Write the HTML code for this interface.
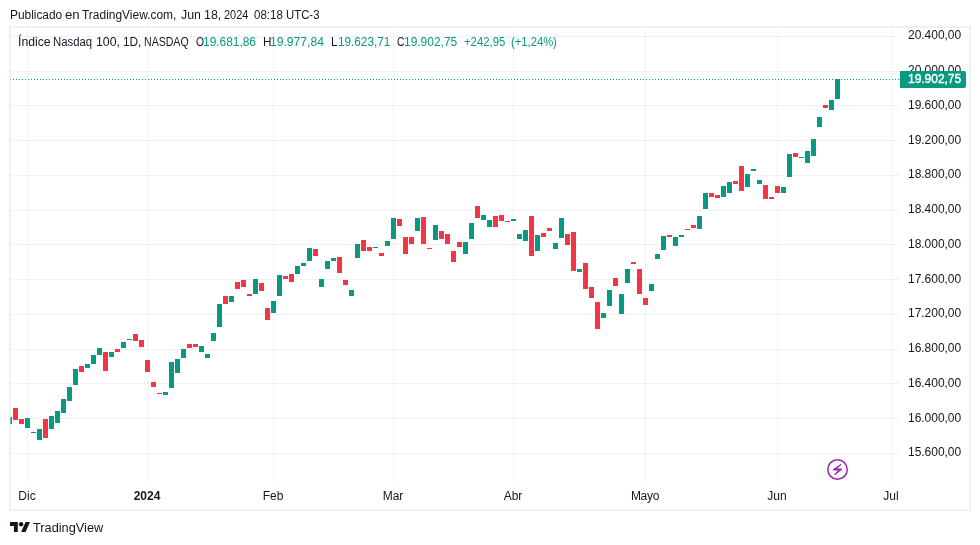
<!DOCTYPE html>
<html lang="es"><head><meta charset="utf-8"><title>Índice Nasdaq 100</title>
<style>
html,body{margin:0;padding:0;background:#fff;}
body{width:980px;height:545px;position:relative;overflow:hidden;font-family:"Liberation Sans",sans-serif;color:#131722;}
.a{position:absolute;}
.t{position:absolute;white-space:nowrap;font-size:12px;line-height:14px;transform-origin:0 0;}
.g{background:#089981;}
.r{background:#f23645;}
.h{position:absolute;left:11px;width:889px;height:1px;background:rgba(42,46,57,0.06);}
.v{position:absolute;top:28px;width:1px;height:454px;background:rgba(42,46,57,0.06);}
.c{position:absolute;width:5px;}
.up{color:#089981;}
</style></head><body>
<div class="t" id="hdr0" style="left:9.56px;top:8px;transform:scaleX(0.9905);">Publicado</div>
<div class="t" id="hdr1" style="left:65.18px;top:8px;transform:scaleX(1.0972);">en</div>
<div class="t" id="hdr2" style="left:81.81px;top:8px;transform:scaleX(0.9963);">TradingView.com,</div>
<div class="t" id="hdr3" style="left:181.05px;top:8px;transform:scaleX(1.0276);">Jun</div>
<div class="t" id="hdr4" style="left:203.53px;top:8px;transform:scaleX(1.0303);">18,</div>
<div class="t" id="hdr5" style="left:224.32px;top:8px;transform:scaleX(0.9111);">2024</div>
<div class="t" id="hdr6" style="left:253.69px;top:8px;transform:scaleX(0.9600);">08:18</div>
<div class="t" id="hdr7" style="left:285.51px;top:8px;transform:scaleX(0.9469);">UTC-3</div>
<div class="h" style="top:36px"></div>
<div class="h" style="top:71px"></div>
<div class="h" style="top:105px"></div>
<div class="h" style="top:140px"></div>
<div class="h" style="top:175px"></div>
<div class="h" style="top:210px"></div>
<div class="h" style="top:244px"></div>
<div class="h" style="top:279px"></div>
<div class="h" style="top:314px"></div>
<div class="h" style="top:349px"></div>
<div class="h" style="top:383px"></div>
<div class="h" style="top:418px"></div>
<div class="h" style="top:453px"></div>
<div class="v" style="left:27px"></div>
<div class="v" style="left:147px"></div>
<div class="v" style="left:273px"></div>
<div class="v" style="left:393px"></div>
<div class="v" style="left:513px"></div>
<div class="v" style="left:645px"></div>
<div class="v" style="left:777px"></div>
<div class="v" style="left:891px"></div>
<div class="a" id="pline" style="left:10px;top:79px;width:890px;height:1px;background:repeating-linear-gradient(90deg,#089981 0 1px,transparent 1px 3px);"></div>
<div class="c g" style="left:10px;top:417px;height:7px;width:2px;"></div>
<div class="c r" style="left:13px;top:408px;height:12px;"></div>
<div class="c r" style="left:19px;top:419px;height:5px;"></div>
<div class="c g" style="left:25px;top:418px;height:10px;"></div>
<div class="c g" style="left:31px;top:432px;height:1px;"></div>
<div class="c g" style="left:37px;top:429px;height:11px;"></div>
<div class="c r" style="left:43px;top:419px;height:19px;"></div>
<div class="c g" style="left:49px;top:416px;height:13px;"></div>
<div class="c g" style="left:55px;top:411px;height:12px;"></div>
<div class="c g" style="left:61px;top:399px;height:14px;"></div>
<div class="c g" style="left:67px;top:387px;height:14px;"></div>
<div class="c g" style="left:73px;top:369px;height:16px;"></div>
<div class="c r" style="left:79px;top:366px;height:6px;"></div>
<div class="c g" style="left:85px;top:364px;height:4px;"></div>
<div class="c g" style="left:91px;top:355px;height:9px;"></div>
<div class="c g" style="left:97px;top:348px;height:7px;"></div>
<div class="c r" style="left:103px;top:352px;height:19px;"></div>
<div class="c g" style="left:109px;top:352px;height:5px;"></div>
<div class="c r" style="left:115px;top:349px;height:3px;"></div>
<div class="c g" style="left:121px;top:342px;height:6px;"></div>
<div class="c g" style="left:127px;top:339px;height:1px;"></div>
<div class="c r" style="left:133px;top:334px;height:7px;"></div>
<div class="c r" style="left:139px;top:340px;height:7px;"></div>
<div class="c r" style="left:145px;top:360px;height:12px;"></div>
<div class="c r" style="left:151px;top:382px;height:5px;"></div>
<div class="c r" style="left:157px;top:393px;height:1px;"></div>
<div class="c g" style="left:163px;top:392px;height:3px;"></div>
<div class="c g" style="left:169px;top:362px;height:26px;"></div>
<div class="c g" style="left:175px;top:359px;height:14px;"></div>
<div class="c g" style="left:181px;top:349px;height:9px;"></div>
<div class="c r" style="left:187px;top:344px;height:4px;"></div>
<div class="c r" style="left:193px;top:344px;height:3px;"></div>
<div class="c g" style="left:199px;top:346px;height:6px;"></div>
<div class="c g" style="left:205px;top:354px;height:4px;"></div>
<div class="c g" style="left:211px;top:333px;height:8px;"></div>
<div class="c g" style="left:217px;top:304px;height:23px;"></div>
<div class="c r" style="left:223px;top:296px;height:8px;"></div>
<div class="c g" style="left:229px;top:296px;height:6px;"></div>
<div class="c r" style="left:235px;top:282px;height:7px;"></div>
<div class="c r" style="left:241px;top:280px;height:7px;"></div>
<div class="c r" style="left:247px;top:294px;height:2px;"></div>
<div class="c g" style="left:253px;top:279px;height:15px;"></div>
<div class="c r" style="left:259px;top:283px;height:8px;"></div>
<div class="c r" style="left:265px;top:308px;height:12px;"></div>
<div class="c g" style="left:271px;top:301px;height:12px;"></div>
<div class="c g" style="left:277px;top:275px;height:21px;"></div>
<div class="c r" style="left:283px;top:276px;height:3px;"></div>
<div class="c r" style="left:289px;top:274px;height:8px;"></div>
<div class="c g" style="left:295px;top:266px;height:8px;"></div>
<div class="c g" style="left:301px;top:263px;height:3px;"></div>
<div class="c g" style="left:307px;top:248px;height:13px;"></div>
<div class="c r" style="left:313px;top:249px;height:7px;"></div>
<div class="c g" style="left:319px;top:279px;height:8px;"></div>
<div class="c g" style="left:325px;top:261px;height:8px;"></div>
<div class="c g" style="left:331px;top:258px;height:3px;"></div>
<div class="c r" style="left:337px;top:257px;height:16px;"></div>
<div class="c r" style="left:343px;top:280px;height:5px;"></div>
<div class="c g" style="left:349px;top:290px;height:6px;"></div>
<div class="c g" style="left:355px;top:244px;height:14px;"></div>
<div class="c r" style="left:361px;top:240px;height:11px;"></div>
<div class="c r" style="left:367px;top:247px;height:4px;"></div>
<div class="c g" style="left:373px;top:247px;height:1px;"></div>
<div class="c r" style="left:379px;top:253px;height:3px;"></div>
<div class="c g" style="left:385px;top:241px;height:5px;"></div>
<div class="c g" style="left:391px;top:218px;height:21px;"></div>
<div class="c r" style="left:397px;top:219px;height:7px;"></div>
<div class="c r" style="left:403px;top:237px;height:17px;"></div>
<div class="c r" style="left:409px;top:237px;height:7px;"></div>
<div class="c g" style="left:415px;top:218px;height:13px;"></div>
<div class="c r" style="left:421px;top:217px;height:27px;"></div>
<div class="c r" style="left:427px;top:248px;height:1px;"></div>
<div class="c g" style="left:433px;top:225px;height:15px;"></div>
<div class="c r" style="left:439px;top:231px;height:8px;"></div>
<div class="c r" style="left:445px;top:234px;height:10px;"></div>
<div class="c r" style="left:451px;top:251px;height:11px;"></div>
<div class="c r" style="left:457px;top:242px;height:5px;"></div>
<div class="c g" style="left:463px;top:242px;height:12px;"></div>
<div class="c g" style="left:469px;top:223px;height:16px;"></div>
<div class="c r" style="left:475px;top:206px;height:12px;"></div>
<div class="c g" style="left:481px;top:215px;height:5px;"></div>
<div class="c g" style="left:487px;top:220px;height:7px;"></div>
<div class="c r" style="left:493px;top:216px;height:11px;"></div>
<div class="c r" style="left:499px;top:215px;height:6px;"></div>
<div class="c r" style="left:505px;top:221px;height:1px;"></div>
<div class="c g" style="left:511px;top:219px;height:2px;"></div>
<div class="c g" style="left:517px;top:234px;height:5px;"></div>
<div class="c g" style="left:523px;top:230px;height:11px;"></div>
<div class="c r" style="left:529px;top:216px;height:40px;"></div>
<div class="c g" style="left:535px;top:235px;height:16px;"></div>
<div class="c r" style="left:541px;top:233px;height:4px;"></div>
<div class="c r" style="left:547px;top:228px;height:3px;"></div>
<div class="c g" style="left:553px;top:243px;height:6px;"></div>
<div class="c g" style="left:559px;top:218px;height:20px;"></div>
<div class="c r" style="left:565px;top:234px;height:11px;"></div>
<div class="c r" style="left:571px;top:232px;height:39px;"></div>
<div class="c g" style="left:577px;top:269px;height:3px;"></div>
<div class="c r" style="left:583px;top:263px;height:26px;"></div>
<div class="c r" style="left:589px;top:287px;height:11px;"></div>
<div class="c r" style="left:595px;top:302px;height:27px;"></div>
<div class="c g" style="left:601px;top:313px;height:5px;"></div>
<div class="c g" style="left:607px;top:290px;height:16px;"></div>
<div class="c r" style="left:613px;top:278px;height:8px;"></div>
<div class="c g" style="left:619px;top:294px;height:20px;"></div>
<div class="c g" style="left:625px;top:269px;height:14px;"></div>
<div class="c r" style="left:631px;top:262px;height:2px;"></div>
<div class="c r" style="left:637px;top:269px;height:25px;"></div>
<div class="c r" style="left:643px;top:298px;height:7px;"></div>
<div class="c g" style="left:649px;top:284px;height:7px;"></div>
<div class="c g" style="left:655px;top:254px;height:5px;"></div>
<div class="c g" style="left:661px;top:236px;height:14px;"></div>
<div class="c r" style="left:667px;top:235px;height:2px;"></div>
<div class="c g" style="left:673px;top:237px;height:9px;"></div>
<div class="c g" style="left:679px;top:235px;height:2px;"></div>
<div class="c r" style="left:685px;top:229px;height:1px;"></div>
<div class="c r" style="left:691px;top:225px;height:3px;"></div>
<div class="c g" style="left:697px;top:216px;height:13px;"></div>
<div class="c g" style="left:703px;top:193px;height:16px;"></div>
<div class="c r" style="left:709px;top:193px;height:4px;"></div>
<div class="c r" style="left:715px;top:195px;height:3px;"></div>
<div class="c g" style="left:721px;top:186px;height:11px;"></div>
<div class="c g" style="left:727px;top:182px;height:11px;"></div>
<div class="c r" style="left:733px;top:181px;height:3px;"></div>
<div class="c r" style="left:739px;top:166px;height:25px;"></div>
<div class="c g" style="left:745px;top:174px;height:13px;"></div>
<div class="c g" style="left:751px;top:169px;height:2px;"></div>
<div class="c g" style="left:757px;top:180px;height:4px;"></div>
<div class="c r" style="left:763px;top:185px;height:14px;"></div>
<div class="c r" style="left:769px;top:197px;height:2px;"></div>
<div class="c r" style="left:775px;top:186px;height:7px;"></div>
<div class="c g" style="left:781px;top:187px;height:6px;"></div>
<div class="c g" style="left:787px;top:154px;height:23px;"></div>
<div class="c r" style="left:793px;top:153px;height:4px;"></div>
<div class="c g" style="left:799px;top:157px;height:1px;"></div>
<div class="c g" style="left:805px;top:151px;height:12px;"></div>
<div class="c g" style="left:811px;top:139px;height:17px;"></div>
<div class="c g" style="left:817px;top:117px;height:10px;"></div>
<div class="c r" style="left:823px;top:105px;height:3px;"></div>
<div class="c g" style="left:829px;top:100px;height:10px;"></div>
<div class="c g" style="left:835px;top:79px;height:20px;"></div>
<div class="a" id="frame" style="left:9px;top:26px;width:958px;height:481px;border:2px solid rgba(224,227,235,0.5);"></div>
<div class="t" id="l0_0" style="left:17.83px;top:35px;transform:scaleX(1.0188);">Índice</div>
<div class="t" id="l0_1" style="left:53.46px;top:35px;transform:scaleX(0.9443);">Nasdaq</div>
<div class="t" id="l0_2" style="left:96.10px;top:35px;transform:scaleX(1.0210);">100,</div>
<div class="t" id="l0_3" style="left:123.00px;top:35px;transform:scaleX(0.9827);">1D,</div>
<div class="t" id="l0_4" style="left:144.45px;top:35px;transform:scaleX(0.8810);">NASDAQ</div>
<div class="t" id="lO" style="left:195.86px;top:35px;transform:scaleX(0.8624);">O</div>
<div class="t" id="lOv" style="left:203.00px;top:35px;transform:scaleX(0.9928);color:#089981;">19.681,86</div>
<div class="t" id="lH" style="left:262.56px;top:35px;transform:scaleX(0.9773);">H</div>
<div class="t" id="lHv" style="left:270.17px;top:35px;transform:scaleX(1.0095);color:#089981;">19.977,84</div>
<div class="t" id="lL" style="left:331.00px;top:35px;transform:scaleX(0.9584);">L</div>
<div class="t" id="lLv" style="left:337.61px;top:35px;transform:scaleX(0.9787);color:#089981;">19.623,71</div>
<div class="t" id="lC" style="left:397.37px;top:35px;transform:scaleX(0.8643);">C</div>
<div class="t" id="lCv" style="left:403.90px;top:35px;transform:scaleX(0.9966);color:#089981;">19.902,75</div>
<div class="t" id="lD" style="left:464.44px;top:35px;transform:scaleX(0.9440);color:#089981;">+242,95</div>
<div class="t" id="lP" style="left:510.60px;top:35px;transform:scaleX(0.9351);color:#089981;">(+1,24%)</div>
<div class="t" id="p0" style="left:908.08px;top:28px;letter-spacing:-0.046px;">20.400,00</div>
<div class="t" id="p1" style="left:908.08px;top:63px;letter-spacing:-0.046px;">20.000,00</div>
<div class="t" id="p2" style="left:908.08px;top:98px;letter-spacing:-0.046px;">19.600,00</div>
<div class="t" id="p3" style="left:908.08px;top:133px;letter-spacing:-0.046px;">19.200,00</div>
<div class="t" id="p4" style="left:908.08px;top:167px;letter-spacing:-0.046px;">18.800,00</div>
<div class="t" id="p5" style="left:908.08px;top:202px;letter-spacing:-0.046px;">18.400,00</div>
<div class="t" id="p6" style="left:908.08px;top:237px;letter-spacing:-0.046px;">18.000,00</div>
<div class="t" id="p7" style="left:908.08px;top:272px;letter-spacing:-0.046px;">17.600,00</div>
<div class="t" id="p8" style="left:908.08px;top:306px;letter-spacing:-0.046px;">17.200,00</div>
<div class="t" id="p9" style="left:908.08px;top:341px;letter-spacing:-0.046px;">16.800,00</div>
<div class="t" id="p10" style="left:908.08px;top:376px;letter-spacing:-0.046px;">16.400,00</div>
<div class="t" id="p11" style="left:908.08px;top:411px;letter-spacing:-0.046px;">16.000,00</div>
<div class="t" id="p12" style="left:908.08px;top:445px;letter-spacing:-0.046px;">15.600,00</div>
<div class="a" id="tag" style="left:900px;top:71px;width:66px;height:17px;background:#089981;border-radius:0 2px 2px 0;"></div>
<div class="t" id="tagt" style="left:908.08px;top:72px;letter-spacing:-0.046px;color:#fff;-webkit-text-stroke:0.4px #fff;">19.902,75</div>
<div class="t tl" style="left:27px;top:489px;width:60px;margin-left:-30px;text-align:center;">Dic</div>
<div class="t tl" style="left:147px;top:489px;width:60px;margin-left:-30px;text-align:center;font-weight:bold;">2024</div>
<div class="t tl" style="left:273px;top:489px;width:60px;margin-left:-30px;text-align:center;">Feb</div>
<div class="t tl" style="left:393px;top:489px;width:60px;margin-left:-30px;text-align:center;">Mar</div>
<div class="t tl" style="left:513px;top:489px;width:60px;margin-left:-30px;text-align:center;">Abr</div>
<div class="t tl" style="left:645px;top:489px;width:60px;margin-left:-30px;text-align:center;letter-spacing:-0.3px;">Mayo</div>
<div class="t tl" style="left:777px;top:489px;width:60px;margin-left:-30px;text-align:center;">Jun</div>
<div class="t tl" style="left:891px;top:489px;width:60px;margin-left:-30px;text-align:center;">Jul</div>
<svg class="a" id="bolt" style="left:825px;top:457px;" width="25" height="25" viewBox="825 457 25 25"><circle cx="837.5" cy="469.5" r="9.75" fill="#fff" stroke="#9c27b0" stroke-width="1.5"/><path d="M840.9 463.7 L841.4 464.7 L837.2 468.5 L842.0 468.5 L842.0 469.4 L835.0 475.2 L834.1 474.4 L838.0 470.4 L833.0 470.4 L832.8 469.5 Z" fill="#9c27b0"/></svg>
<svg class="a" id="logo" style="left:10px;top:522px;" width="20" height="10" viewBox="0 0 36 18"><path fill="#131722" d="M14 18H7V7H0V0h14v18zM36 0l-8 18h-8l8-18h8z"/><circle cx="20" cy="4" r="4" fill="#131722"/></svg>
<div class="t" id="tv" style="left:33.01px;top:520px;transform:scaleX(0.9821);font-size:13px;line-height:16px;">TradingView</div>
</body></html>
